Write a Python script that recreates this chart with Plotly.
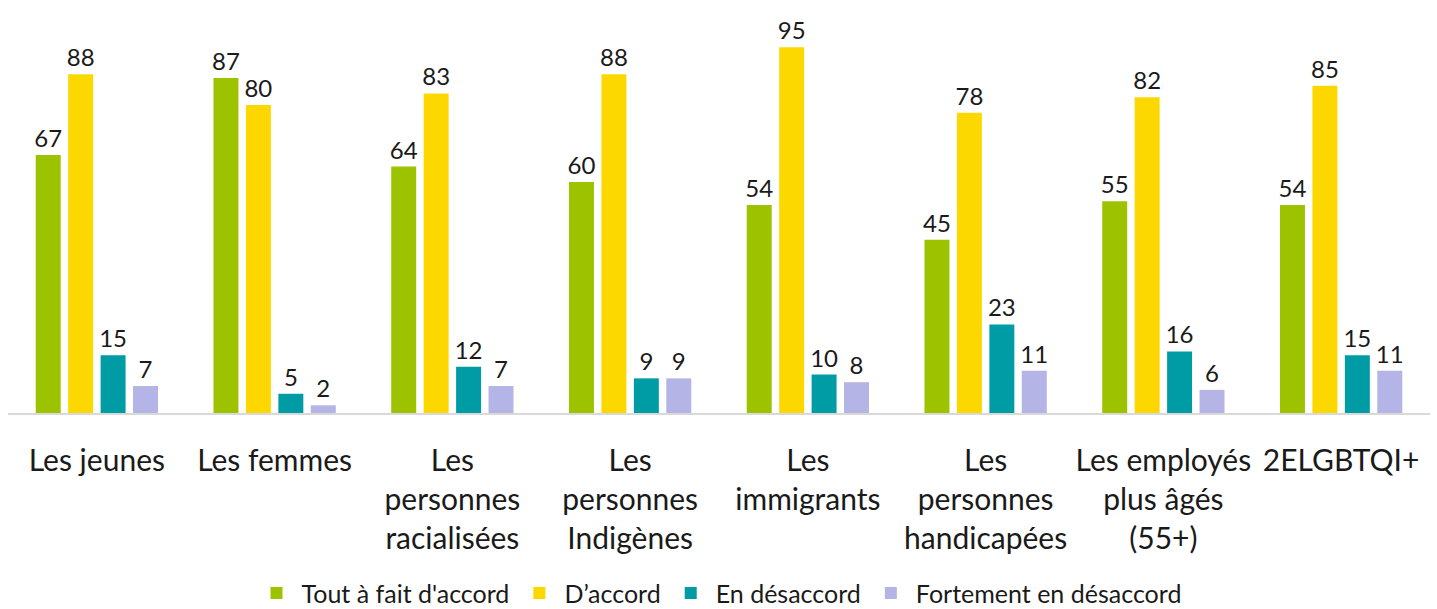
import plotly.graph_objects as go

categories = [
    "Les jeunes",
    "Les femmes",
    "Les<br>personnes<br>racialisées",
    "Les<br>personnes<br>Indigènes",
    "Les<br>immigrants",
    "Les<br>personnes<br>handicapées",
    "Les employés<br>plus âgés<br>(55+)",
    "2ELGBTQI+",
]

tout_a_fait = [67, 87, 64, 60, 54, 45, 55, 54]
d_accord = [88, 80, 83, 88, 95, 78, 82, 85]
en_desaccord = [15, 5, 12, 9, 10, 23, 16, 15]
fortement = [7, 2, 7, 9, 8, 11, 6, 11]

series = [
    ("Tout à fait d'accord", tout_a_fait, "#9DC300"),
    ("D’accord", d_accord, "#FDD800"),
    ("En désaccord", en_desaccord, "#009CA6"),
    ("Fortement en désaccord", fortement, "#B4B4E6"),
]

FONT = "Lato, sans-serif"

fig = go.Figure()
for name, vals, color in series:
    fig.add_trace(go.Bar(
        name=name,
        x=categories,
        y=vals,
        marker=dict(color=color, line=dict(width=0)),
        text=vals,
        textposition="outside",
        constraintext="none",
        cliponaxis=False,
        textfont=dict(size=24, color="#1a1a1a", family=FONT),
    ))

fig.update_layout(
    barmode="group",
    bargap=0.27,
    bargroupgap=0.23,
    width=1437,
    height=609,
    margin=dict(l=8, r=7, t=28, b=196, autoexpand=False),
    paper_bgcolor="white",
    plot_bgcolor="white",
    font=dict(family=FONT, size=30, color="#1a1a1a"),
    showlegend=True,
    legend=dict(
        orientation="h",
        x=0.5,
        xanchor="center",
        y=-0.468,
        yanchor="middle",
        font=dict(size=25, family=FONT),
        itemsizing="constant",
        itemwidth=40,
        traceorder="normal",
    ),
)

fig.update_xaxes(
    showline=True,
    linecolor="#D9D9D9",
    linewidth=2,
    ticks="",
    showgrid=False,
    automargin=False,
    ticklabelstandoff=20,
    tickfont=dict(size=30, family=FONT),
)
fig.update_yaxes(
    range=[0, 100],
    visible=False,
    showgrid=False,
)

fig.write_html("out.html")
